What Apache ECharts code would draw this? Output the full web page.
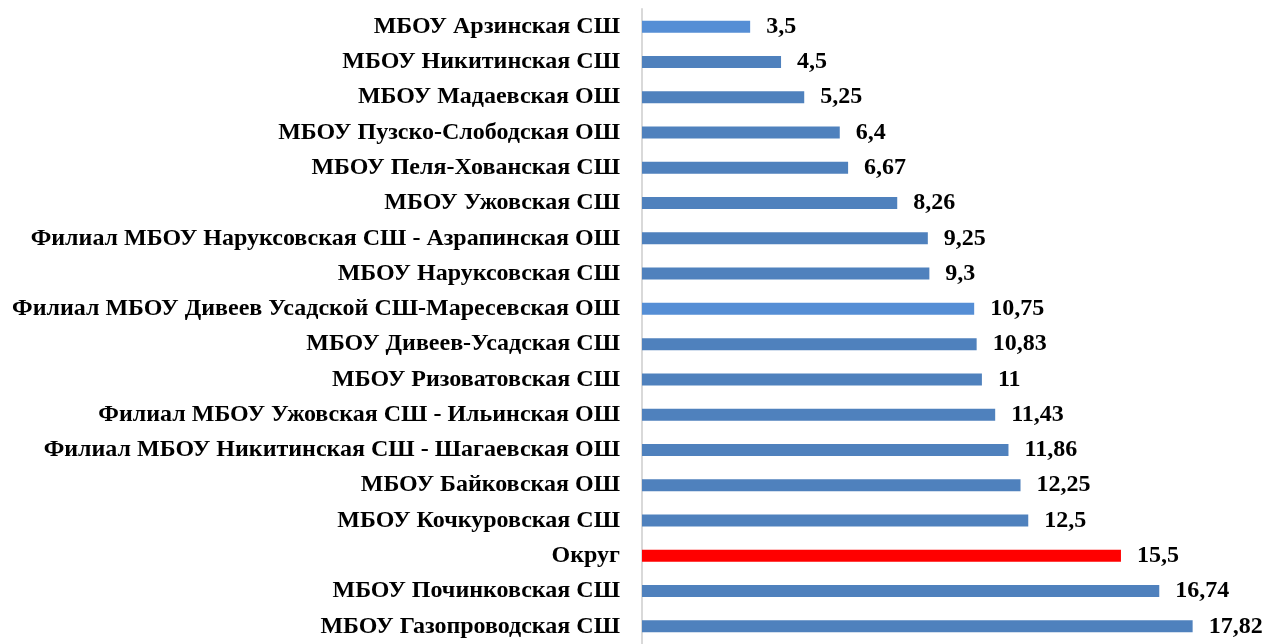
<!DOCTYPE html>
<html>
<head>
<meta charset="utf-8">
<script src="https://cdn.jsdelivr.net/npm/echarts@6/dist/echarts.min.js"></script>
<style>
  html, body { margin: 0; padding: 0; background: #fff; }
  #main { width: 1266px; height: 644px; }
</style>
</head>
<body>
<div id="main"></div>
<script>
var schools = [
    'МБОУ Арзинская СШ',
    'МБОУ Никитинская СШ',
    'МБОУ Мадаевская ОШ',
    'МБОУ Пузско-Слободская ОШ',
    'МБОУ Пеля-Хованская СШ',
    'МБОУ Ужовская СШ',
    'Филиал МБОУ Наруксовская СШ - Азрапинская ОШ',
    'МБОУ Наруксовская СШ',
    'Филиал МБОУ Дивеев Усадской СШ-Маресевская ОШ',
    'МБОУ Дивеев-Усадская СШ',
    'МБОУ Ризоватовская СШ',
    'Филиал МБОУ Ужовская СШ - Ильинская ОШ',
    'Филиал МБОУ Никитинская СШ - Шагаевская ОШ',
    'МБОУ Байковская ОШ',
    'МБОУ Кочкуровская СШ',
    'Округ',
    'МБОУ Починковская СШ',
    'МБОУ Газопроводская СШ'
];

var scores = [3.5, 4.5, 5.25, 6.4, 6.67, 8.26, 9.25, 9.3, 10.75, 10.83, 11, 11.43, 11.86, 12.25, 12.5, 15.5, 16.74, 17.82];

// bars drawn in a lighter blue in the original
var lightBars = ['МБОУ Арзинская СШ', 'Филиал МБОУ Дивеев Усадской СШ-Маресевская ОШ'];

var myChart = echarts.init(document.getElementById('main'));

var barData = scores.map(function(v, i) {
    var color = '#4F81BD';
    if (schools[i] === 'Округ') {
        color = '#FF0000';
    } else if (lightBars.indexOf(schools[i]) >= 0) {
        color = '#558ED5';
    }
    return { value: v, itemStyle: { color: color } };
});

var option = {
    animation: false,
    grid: {
        left: 642,
        width: 618,
        top: 9,
        height: 641
    },
    xAxis: {
        type: 'value',
        min: 0,
        max: 20,
        show: false
    },
    yAxis: {
        type: 'category',
        inverse: true,
        data: schools,
        axisLine: { show: true, lineStyle: { color: '#D9D9D9', width: 2 } },
        axisTick: { show: false },
        axisLabel: {
            margin: 22,
            color: '#000',
            fontFamily: 'Liberation Serif',
            fontWeight: 'bold',
            fontSize: 24
        }
    },
    series: [{
        type: 'bar',
        data: barData,
        barWidth: 12,
        label: {
            show: true,
            position: 'right',
            distance: 16,
            color: '#000',
            fontFamily: 'Liberation Serif',
            fontWeight: 'bold',
            fontSize: 24,
            formatter: function(p) {
                return String(p.value).replace('.', ',');
            }
        }
    }]
};

myChart.setOption(option);
</script>
</body>
</html>
